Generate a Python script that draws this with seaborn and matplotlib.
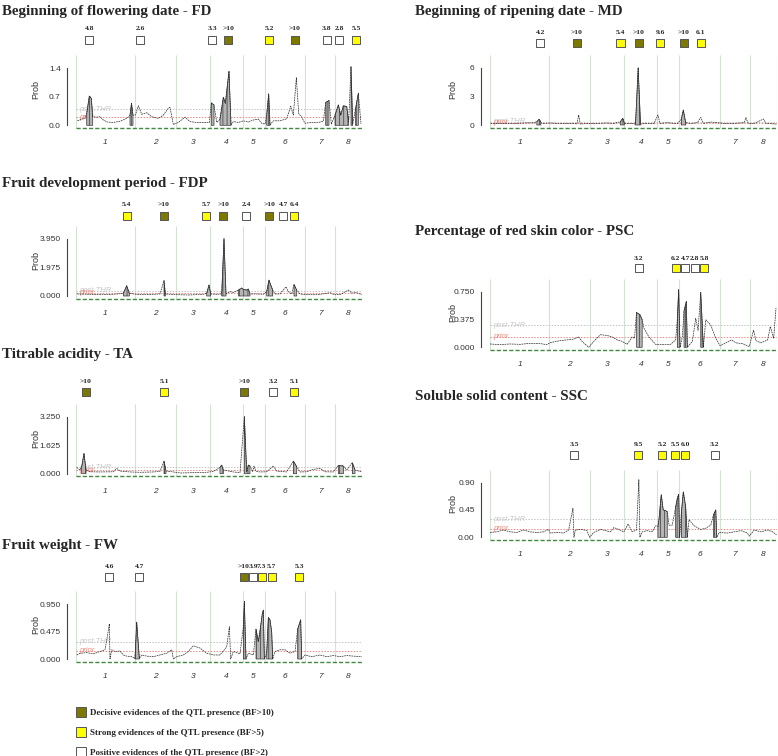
import numpy as np
import matplotlib
matplotlib.use("Agg")
import matplotlib.pyplot as plt
from matplotlib.lines import Line2D
from matplotlib.ticker import FixedLocator
import seaborn as sns
import pandas as pd

# ---- genome layout (cM) ----
chrom_names = ["1", "2", "3", "4", "5", "6", "7", "8"]
chrom_len = [118, 81, 69, 65, 44, 81, 60, 54]

# ---- Beginning of flowering date - FD ----
fd_profile = [(2.7, 0.11), (11.4, 0.15), (18, 0.17), (21.4, 0.29), (26.7, 0.72), (30.7, 0.66), (33.4, 0.21),
              (41.4, 0.20), (48, 0.21), (54.7, 0.13), (62.7, 0.08), (74.7, 0.07), (88, 0.10), (98, 0.15),
              (104.7, 0.20), (108, 0.25), (111, 0.54), (114, 0.25), (118.7, 0.25), (124.7, 0.48), (131.4, 0.27),
              (141.4, 0.31), (151.4, 0.21), (164.7, 0.17), (174.7, 0.25), (184.7, 0.42), (188, 0.44), (194.7, 0.02),
              (204.7, 0.07), (218, 0.20), (228, 0.09), (241.4, 0.07), (258, 0.07), (266.7, 0.07), (270.7, 0.55),
              (276, 0.50), (281.4, 0.07), (288, 0.15), (294.7, 0.69), (298.7, 0.54), (306, 1.33), (310, 0.01),
              (314.7, 0.09), (324.7, 0.07), (334.7, 0.11), (344.7, 0.08), (354.7, 0.13), (364.7, 0.15), (371.4, 0.05),
              (378, 0.03), (381.4, 0.25), (385.4, 0.77), (388, 0.01), (394.7, 0.11), (408, 0.11), (421.4, 0.16),
              (429.4, 0.47), (434.7, 0.25), (440.7, 1.17), (445.4, 0.29), (451.4, 0.20), (458, 0.05), (471.4, 0.07),
              (484.7, 0.07), (494.7, 0.10), (499.4, 0.56), (506, 0.61), (510.7, 0.03), (518, 0.25), (524.7, 0.50),
              (529.4, 0.25), (534.7, 0.48), (541.4, 0.46), (545.4, 0.09), (550, 1.44), (553.4, 0.03), (558.7, 0.38),
              (564.7, 0.79), (570, 0.03)]
fd_shaded = [(20, 34), (108, 114), (270, 277), (288, 311), (380, 389), (498, 507), (518, 546), (548, 554), (558, 566)]
fd_qtl_pos = [26.7, 128, 272.7, 304.7, 386.7, 438, 501.3, 526.7, 560]
fd_qtl_bf = ["4.8", "2.6", "3.3", ">10", "5.2", ">10", "3.8", "2.8", "5.5"]
fd_qtl_cls = ["P", "P", "P", "D", "S", "D", "P", "P", "S"]
fd_thr = (0.39, 0.20)

# ---- Beginning of ripening date - MD ----
md_profile = [(1.3, 0.17), (20, 0.14), (40, 0.14), (66.7, 0.21), (86.7, 0.24), (93.3, 0.35), (98, 0.6), (101.3, 0.3),
              (103.3, 0.17), (120, 0.21), (133.3, 0.17), (146.7, 0.14), (166.7, 0.17), (173.3, 0.1), (176.7, 1.05),
              (180, 0.1), (193.3, 0.17), (213.3, 0.17), (233.3, 0.21), (246.7, 0.17), (260, 0.35), (264.7, 0.7),
              (268, 0.17), (280, 0.17), (290, 0.1), (295.3, 6.0), (300, 0.1), (313.3, 0.17), (326.7, 0.14),
              (334.7, 1.05), (338.7, 0.17), (353.3, 0.24), (373.3, 0.14), (381.3, 0.6), (385.3, 1.57), (390, 0.24),
              (400, 0.17), (413.3, 0.24), (420, 0.8), (425.3, 0.17), (440, 0.31), (453.3, 0.24), (466.7, 0.17),
              (486.7, 0.17), (506.7, 0.24), (510, 0.77), (514.7, 0.17), (526.7, 0.17), (545.3, 0.63), (550, 0.17),
              (571, 0.1)]
md_shaded = [(92, 103), (259, 268), (290, 300), (380, 391)]
md_qtl_pos = [100, 173.3, 260, 296.7, 338.7, 386.7, 420]
md_qtl_bf = ["4.2", ">10", "5.4", ">10", "9.6", ">10", "6.1"]
md_qtl_cls = ["P", "D", "S", "D", "S", "D", "S"]
md_thr = (0.35, 0.25)

# ---- Fruit development period - FDP ----
fdp_profile = [(2.7, 0.14), (21.4, 0.12), (48, 0.09), (74.7, 0.12), (94.7, 0.18), (101.4, 0.71), (106.7, 0.18),
               (128, 0.09), (154.7, 0.12), (168, 0.14), (176, 1.06), (178.7, 0.14), (201.4, 0.09), (228, 0.07),
               (254.7, 0.12), (261.4, 0.18), (266, 0.76), (269.4, 0.14), (281.4, 0.12), (291.4, 0.14), (296, 3.95),
               (300, 0.14), (308, 0.30), (314.7, 0.23), (324.7, 0.41), (331.4, 0.55), (334.7, 0.46), (341.4, 0.41),
               (344.7, 0.48), (348, 0.14), (361.4, 0.14), (374.7, 0.12), (381.4, 0.30), (386, 1.10), (389.4, 0.76),
               (393.4, 0.41), (398, 0.14), (408, 0.14), (420, 0.64), (424.7, 0.30), (431.4, 0.14), (436, 0.80),
               (441.4, 0.41), (448, 0.14), (461.4, 0.09), (481.4, 0.09), (501.4, 0.18), (508, 0.23), (514.7, 0.12),
               (528, 0.09), (544.7, 0.41), (551.4, 0.21), (561.4, 0.23), (571.4, 0.09)]
fdp_shaded = [(94, 107), (170, 179), (261, 270), (291, 300), (324, 348), (381, 394), (434, 442)]
fdp_qtl_pos = [101.3, 176, 260, 294.7, 340, 386.7, 414.7, 436]
fdp_qtl_bf = ["5.4", ">10", "5.7", ">10", "2.4", ">10", "4.7", "6.4"]
fdp_qtl_cls = ["S", "D", "S", "D", "P", "D", "P", "S"]
fdp_thr = (0.37, 0.23)

# ---- Percentage of red skin color - PSC ----
psc_profile = [(0, 0.045), (20, 0.036), (40, 0.045), (60, 0.04), (80, 0.054), (100, 0.05), (113.3, 0.036),
               (120, 0.063), (140, 0.09), (153.3, 0.10), (166.7, 0.11), (176.7, 0.14), (183.3, 0.08), (196.7, 0.0),
               (206.7, 0.08), (220, 0.17), (233.3, 0.16), (243.3, 0.14), (253.3, 0.10), (263.3, 0.08), (273.3, 0.04),
               (283.3, 0.14), (288, 0.12), (292, 0.47), (298.7, 0.44), (303.3, 0.37), (306.7, 0.26), (316.7, 0.14),
               (330, 0.04), (346.7, 0.04), (360, 0.04), (370, 0.10), (373.3, 0.37), (376, 0.78), (378.7, 0.0),
               (383.3, 0.14), (386.7, 0.49), (391.3, 0.62), (393.3, 0.0), (403.3, 0.08), (410, 0.39), (414.7, 0.23),
               (420, 0.74), (425.3, 0.0), (430, 0.37), (440, 0.30), (450, 0.12), (458.7, 0.02), (470, 0.06),
               (481.3, 0.10), (490, 0.06), (503.3, 0.05), (516.7, 0.01), (525.3, 0.23), (530, 0.09), (540, 0.06),
               (553.3, 0.10), (558.7, 0.28), (565.3, 0.12), (570, 0.53)]
psc_shaded = [(291, 304), (372, 379), (385, 394), (418, 426)]
psc_qtl_pos = [296.7, 370, 388.7, 408, 426.7]
psc_qtl_bf = ["3.2", "6.2", "4.7", "2.8", "5.8"]
psc_qtl_cls = ["P", "S", "P", "P", "S"]
psc_thr = (0.30, 0.14)

# ---- Titrable acidity - TA ----
ta_profile = [(1.4, 0.36), (8, 0.21), (11.4, 0.40), (16, 1.16), (20, 0.21), (28, 0.11), (48, 0.10), (74.7, 0.11),
              (81.4, 0.30), (88, 0.15), (108, 0.10), (128, 0.08), (154.7, 0.10), (168, 0.13), (176, 0.72),
              (180, 0.15), (194.7, 0.10), (208, 0.04), (234.7, 0.06), (261.4, 0.08), (274.7, 0.13), (288, 0.36),
              (291.4, 0.49), (294.7, 0.21), (314.7, 0.10), (328, 0.06), (336.7, 3.25), (341.4, 0.11), (344.7, 0.49),
              (348, 0.44), (353.4, 0.11), (356, 0.44), (360, 0.13), (368, 0.10), (381.4, 0.11), (394.7, 0.44),
              (401.4, 0.15), (421.4, 0.10), (434.7, 0.72), (441.4, 0.40), (448, 0.10), (461.4, 0.11), (474.7, 0.25),
              (488, 0.30), (498, 0.11), (514.7, 0.10), (524.7, 0.47), (534.7, 0.44), (541.4, 0.21), (552.7, 0.63),
              (558, 0.21), (571.4, 0.10)]
ta_shaded = [(11, 20), (170, 181), (287, 295), (334, 349), (433, 442), (520, 536), (548, 559)]
ta_qtl_pos = [20, 176.7, 336.7, 394.7, 436]
ta_qtl_bf = [">10", "5.1", ">10", "3.2", "5.1"]
ta_qtl_cls = ["D", "S", "D", "P", "S"]
ta_thr = (0.36, 0.21)

# ---- Soluble solid content - SSC ----
ssc_profile = [(0, 0.08), (13.3, 0.09), (26.7, 0.12), (40, 0.09), (53.3, 0.08), (66.7, 0.12), (80, 0.09),
               (93.3, 0.08), (106.7, 0.09), (116.7, 0.13), (120, 0.07), (133.3, 0.08), (146.7, 0.07), (156.7, 0.12),
               (165.3, 0.48), (167.3, 0.0), (170, 0.12), (183.3, 0.13), (193.3, 0.11), (198.7, 0.0), (206.7, 0.08),
               (220, 0.13), (230, 0.11), (240, 0.09), (246.7, 0.16), (256.7, 0.13), (266.7, 0.09), (275.3, 0.22),
               (283.3, 0.09), (292, 0.12), (296.7, 0.95), (298.7, 0.0), (303.3, 0.09), (313.3, 0.11), (323.3, 0.09),
               (330, 0.19), (334.7, 0.18), (336.7, 0.29), (341.3, 0.70), (345.3, 0.45), (350, 0.44), (353.3, 0.42),
               (356.7, 0.20), (363.3, 0.20), (370, 0.50), (373.3, 0.64), (376, 0.71), (378, 0.0), (381.3, 0.40),
               (385.3, 0.75), (390, 0.50), (393.3, 0.0), (396.7, 0.29), (406.7, 0.19), (420, 0.13), (430, 0.15),
               (440, 0.20), (445.3, 0.37), (450, 0.45), (452, 0.0), (456.7, 0.08), (473.3, 0.07), (486.7, 0.09),
               (500, 0.11), (513.3, 0.07), (516.7, 0.02), (526.7, 0.12), (540, 0.09), (553.3, 0.12), (563.3, 0.09),
               (571, 0.04)]
ssc_shaded = [(334, 354), (369, 379), (380, 394), (444, 452)]
ssc_qtl_pos = [168, 295.3, 343.3, 368.7, 388.7, 448]
ssc_qtl_bf = ["3.5", "9.5", "5.2", "5.5", "6.0", "3.2"]
ssc_qtl_cls = ["P", "S", "S", "S", "S", "P"]
ssc_thr = (0.30, 0.14)

# ---- Fruit weight - FW ----
fw_profile = [(1.4, 0.07), (8, 0.10), (21.4, 0.11), (34.7, 0.09), (48, 0.13), (58, 0.16), (62.7, 0.39), (66.7, 0.61),
              (68, 0.0), (71.4, 0.16), (78, 0.13), (88, 0.14), (94.7, 0.07), (101.4, 0.05), (111.4, 0.04), (118, 0.01),
              (121.4, 0.64), (126.7, 0.01), (131.4, 0.07), (141.4, 0.05), (154.7, 0.04), (168, 0.07), (181.4, 0.10),
              (191.4, 0.16), (194.7, 0.0), (201.4, 0.04), (214.7, 0.07), (224.7, 0.13), (234.7, 0.23), (248, 0.19),
              (261.4, 0.10), (274.7, 0.07), (288, 0.07), (301.4, 0.21), (306.7, 0.56), (309.4, 0.0), (314.7, 0.13),
              (328, 0.09), (334.7, 0.56), (336.7, 1.0), (340, 0.0), (344.7, 0.10), (354.7, 0.07), (360, 0.52),
              (364.7, 0.30), (368, 0.49), (372.7, 0.79), (374.7, 0.85), (376.7, 0.0), (381.4, 0.10), (384.7, 0.72),
              (388, 0.68), (391.4, 0.47), (393.4, 0.0), (398, 0.13), (408, 0.16), (418, 0.16), (428, 0.10),
              (438, 0.13), (443.4, 0.52), (449.4, 0.68), (451.4, 0.0), (458, 0.07), (471.4, 0.04), (488, 0.07),
              (501.4, 0.04), (514.7, 0.06), (528, 0.04), (541.4, 0.06), (554.7, 0.05), (571.4, 0.04)]
fw_shaded = [(118, 127), (334, 340), (358, 377), (381, 394), (443, 452)]
fw_qtl_pos = [66.7, 126.7, 336, 354.7, 371.4, 391.4, 446]
fw_qtl_bf = ["4.6", "4.7", ">10", "3.9", "7.3", "5.7", "5.3"]
fw_qtl_cls = ["P", "P", "D", "P", "S", "S", "S"]
fw_thr = (0.30, 0.14)

legend_labels = ["Decisive evidences of the QTL presence (BF>10)",
                 "Strong evidences of the QTL presence (BF>5)",
                 "Positive evidences of the QTL presence (BF>2)"]
cls_colors = {"D": "#7d7800", "S": "#ffff00", "P": "#ffffff"}

# ---- layout (pixels of the 778x756 canvas) ----
W, H = 778, 756
panels = [
    # title, col, title_y, y_top_tick, y_zero, label_y, box_y, top_tick, tick labels, data
    ("Beginning of flowering date - FD", "L", 11, 68.3, 125.3, 29, 40, 1.4, ["0.0", "0.7", "1.4"],
     fd_profile, fd_shaded, fd_qtl_pos, fd_qtl_bf, fd_qtl_cls, fd_thr),
    ("Beginning of ripening date - MD", "R", 11, 67.7, 125, 32.7, 43.3, 6, ["0", "3", "6"],
     md_profile, md_shaded, md_qtl_pos, md_qtl_bf, md_qtl_cls, md_thr),
    ("Fruit development period - FDP", "L", 184, 238.7, 296, 205, 215.7, 3.95, ["0.000", "1.975", "3.950"],
     fdp_profile, fdp_shaded, fdp_qtl_pos, fdp_qtl_bf, fdp_qtl_cls, fdp_thr),
    ("Percentage of red skin color - PSC", "R", 232, 291.7, 347.3, 258.3, 268.3, 0.75, ["0.000", "0.375", "0.750"],
     psc_profile, psc_shaded, psc_qtl_pos, psc_qtl_bf, psc_qtl_cls, psc_thr),
    ("Titrable acidity - TA", "L", 355, 416.7, 473.7, 381.7, 391.7, 3.25, ["0.000", "1.625", "3.250"],
     ta_profile, ta_shaded, ta_qtl_pos, ta_qtl_bf, ta_qtl_cls, ta_thr),
    ("Soluble solid content - SSC", "R", 397, 482.7, 537.3, 445, 455, 0.9, ["0.00", "0.45", "0.90"],
     ssc_profile, ssc_shaded, ssc_qtl_pos, ssc_qtl_bf, ssc_qtl_cls, ssc_thr),
    ("Fruit weight - FW", "L", 546, 604.3, 659, 566.7, 576.7, 0.95, ["0.000", "0.475", "0.950"],
     fw_profile, fw_shaded, fw_qtl_pos, fw_qtl_bf, fw_qtl_cls, fw_thr),
]
cols = {"L": (76, 286, 2, 40), "R": (490, 287, 415, 457)}

sns.set_theme(style="white")
plt.rcParams["font.family"] = ["Liberation Sans", "DejaVu Sans"]
plt.rcParams["hatch.linewidth"] = 0.5
serif_bold = dict(family="Liberation Serif", weight="bold")

bounds = np.concatenate([[0], np.cumsum(chrom_len)])
centers = (bounds[:-1] + bounds[1:]) / 2
genome_end = bounds[-1]

fig = plt.figure(figsize=(W / 100, H / 100), dpi=100)

for (title, col, ty, yT, y0, lab_y, box_y, T, tlabels,
     profile, shaded, qpos, qbf, qcls, thr) in panels:
    x0, pw, tx, ylab_x = cols[col]
    top_px, bot_px = yT - 13, y0 + 7
    ax = fig.add_axes([x0 / W, 1 - bot_px / H, pw / W, (bot_px - top_px) / H])
    s = T / (y0 - yT)
    ax.set_xlim(0, genome_end)
    ax.set_ylim(-7 * s, T + 13 * s)

    fig.text(tx / W, 1 - ty / H, title, fontsize=10.8, va="center", ha="left", **serif_bold)

    # chromosome separators, thresholds, baseline
    ax.vlines(bounds, -2.5 * s, T + 13 * s, color="#d3e2d3", lw=0.8, zorder=0)
    post, prior = thr
    ax.axhline(post, color="#c4c4c4", lw=0.7, ls=(0, (1.5, 1.5)), zorder=1)
    ax.axhline(prior, color="#f08a80", lw=0.7, ls=(0, (1.5, 1.5)), zorder=1)
    ax.text(6, post, "post.THR", fontsize=5.5, style="italic", color="#c8c8c8", va="center", zorder=1)
    ax.text(6, prior, "prior", fontsize=5.5, style="italic", color="#f08a80", va="center", zorder=1)
    ax.axhline(-2.5 * s, color="#3f8a3f", lw=1.0, ls=(0, (3, 1.5)), zorder=2)

    # posterior profile
    df = pd.DataFrame(profile, columns=["pos", "prob"])
    sns.lineplot(data=df, x="pos", y="prob", ax=ax, estimator=None, sort=False,
                 color="#2a2a2a", lw=0.5, linestyle=(0, (2.5, 1)), zorder=4)
    for a, b in shaded:
        mask = (df["pos"] >= a) & (df["pos"] <= b)
        ax.fill_between(df["pos"], 0, df["prob"], where=mask, facecolor="#b4b4b4",
                        edgecolor="#3a3a3a", hatch="||||", lw=0.5, zorder=3)

    # QTL evidence markers
    yb = (y0 - box_y) * s
    yl = (y0 - lab_y) * s
    ax.scatter(qpos, [yb] * len(qpos), marker="s", s=34, c=[cls_colors[c] for c in qcls],
               edgecolors="#555555", linewidths=0.7, clip_on=False, zorder=6)
    for p, bf in zip(qpos, qbf):
        ax.text(p, yl, bf, ha="center", va="center", fontsize=5.4, clip_on=False, **serif_bold)

    # axes styling (R-like)
    for sp in ["top", "right", "bottom"]:
        ax.spines[sp].set_visible(False)
    ax.spines["left"].set_position(("outward", 6.5))
    ax.spines["left"].set_bounds(0, T)
    ax.spines["left"].set_color("#444444")
    ax.spines["left"].set_linewidth(0.8)
    ax.set_yticks([0, T / 2, T])
    ax.set_yticklabels(tlabels)
    ax.yaxis.set_minor_locator(FixedLocator(np.linspace(0, T, 41)))
    ax.tick_params(axis="y", which="major", length=3, width=0.7, color="#444444",
                   labelsize=6, labelcolor="#333333", pad=1.5)
    ax.tick_params(axis="y", which="minor", length=2, width=0.4, color="#555555")
    ax.set_ylabel("Prob", fontsize=6.5, color="#333333")
    ax.yaxis.set_label_coords((ylab_x - x0) / pw, 0.55)
    ax.set_xlabel("")
    ax.set_xticks(bounds)
    ax.set_xticklabels([])
    ax.set_xticks(centers, minor=True)
    ax.set_xticklabels(chrom_names, minor=True, fontsize=6, style="italic", color="#333333")
    ax.tick_params(axis="x", which="major", length=4, width=0.6, color="#c8c8c8", direction="out")
    ax.tick_params(axis="x", which="minor", length=0, pad=5)
    ax.grid(False)

handles = [Line2D([], [], marker="s", ls="", markersize=6.5, markerfacecolor=cls_colors[c],
                  markeredgecolor="#555555", markeredgewidth=0.7) for c in ["D", "S", "P"]]
fig.legend(handles, legend_labels, loc="upper left", bbox_to_anchor=(72 / W, 1 - 704 / H),
           frameon=False, prop=dict(family="Liberation Serif", weight="bold", size=6.5),
           labelspacing=1.3, handletextpad=0.5, handlelength=1.0, borderpad=0)

fig.savefig("out.png", dpi=100)
